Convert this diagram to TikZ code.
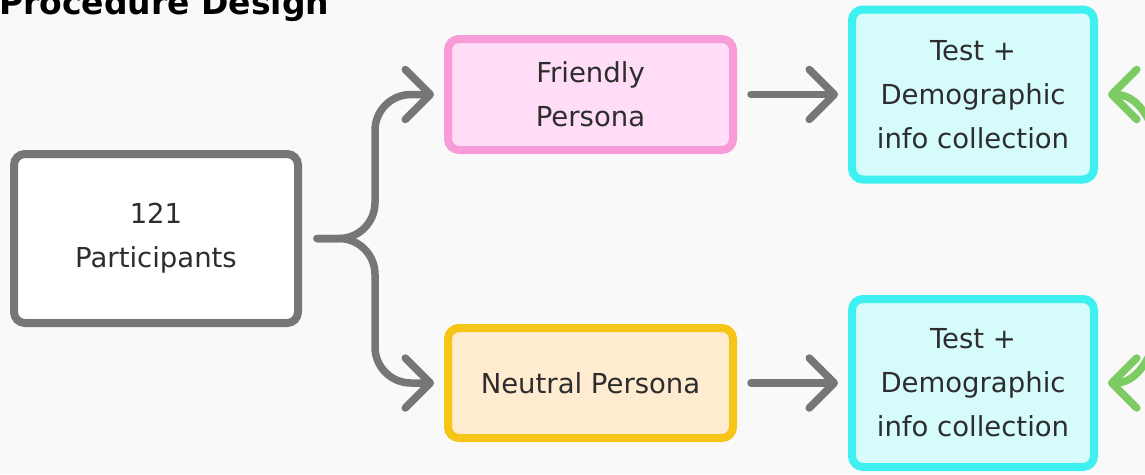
\documentclass[tikz,border=0pt]{standalone}
\usepackage{fontspec}
\setmainfont{DejaVu Sans}
\usepackage{tikz}
\usetikzlibrary{
  arrows.meta,
  calc,
  positioning,
}
\definecolor{canvas}{RGB}{249, 249, 249}
\definecolor{ink}{RGB}{45, 45, 45}
\definecolor{slate}{RGB}{118, 118, 118}
\definecolor{pinkline}{RGB}{248, 155, 217}
\definecolor{pinkfill}{RGB}{255, 221, 246}
\definecolor{amberline}{RGB}{245, 197, 24}
\definecolor{amberfill}{RGB}{255, 235, 207}
\definecolor{cyanline}{RGB}{62, 240, 240}
\definecolor{cyanfill}{RGB}{213, 252, 251}
\definecolor{leaf}{RGB}{124, 204, 99}
\tikzstyle{card} = [
  draw,
  rectangle,
  rounded corners=11,
  line width=8pt,
  align=center,
  text=ink,
  font=\fontsize{27.5}{44}\selectfont,
]
\tikzstyle{flow} = [
  -{Straight Barb[round,length=25pt,width=50pt]},
  line width=7.5pt,
  line cap=round,
  slate,
]
\tikzstyle{feedback} = [
  flow,
  leaf,
]

\begin{document}
\begin{tikzpicture}[x=1pt,y=-1pt,node distance=170pt and 111pt]
        \useasboundingbox (0,0) rectangle (1145,474);
        \fill[canvas] (0,0) rectangle (1145,474);
        \clip (0,0) rectangle (1145,474);

        \node[anchor=base west,inner sep=0,text=black,font=\fontsize{33}{38}\selectfont\bfseries] (title) at (-1,14) {Procedure Design};

        \node[card,minimum width=284,minimum height=169,fill=white,draw=slate]    (part)  at (156,238.5)  {121\\Participants};
        \node[card,minimum width=285,minimum height=111,fill=pinkfill,draw=pinkline]    (friendly)  at (590.5,94.5)  {Friendly\\Persona};
        \node[card,minimum width=285,minimum height=110,fill=amberfill,draw=amberline]    (neutral)  [below=of friendly]  {Neutral Persona};
        \node[card,minimum width=242,minimum height=170,fill=cyanfill,draw=cyanline]    (test1)  [right=of friendly]  {Test +\\Demographic\\info collection};
        \node[card,minimum width=242,minimum height=168,fill=cyanfill,draw=cyanline]    (test2)  [right=of neutral]  {Test +\\Demographic\\info collection};

        % split into the two personas
        \coordinate (fork) at ($(part.east)+(73,0)$);
        \draw[flow,rounded corners=36,shorten <=15pt,shorten >=10pt] (part.east) -- (fork) |- (friendly.west);
        \draw[flow,rounded corners=36,shorten <=15pt,shorten >=10pt] (part.east) -- (fork) |- (neutral.west);

        \draw[flow,shorten <=14pt,shorten >=10pt] (friendly.east) -- (friendly.east -| test1.west);
        \draw[flow,shorten <=14pt,shorten >=10pt] (neutral.east) -- (neutral.east -| test2.west);

        % returns coming in from the right
        \coordinate (back1) at (1160,150);
        \coordinate (back2) at (1160,326);
        \draw[feedback,shorten >=10pt] (back1) .. controls ($(back1)+(-8,-30)$) and ($(test1.east)+(40,0)$) .. (test1.east);
        \draw[feedback,shorten >=10pt] (back2) .. controls ($(back2)+(-8,30)$) and ($(test2.east)+(40,0)$) .. (test2.east);
    \end{tikzpicture}
\end{document}
